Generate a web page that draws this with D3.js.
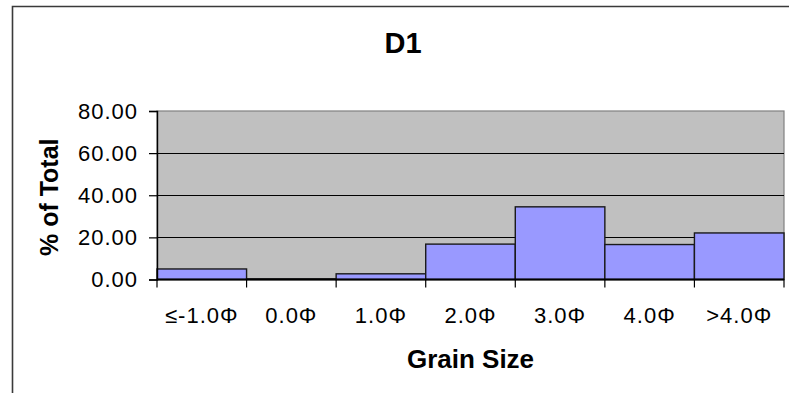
<!DOCTYPE html>
<html>
<head>
<meta charset="utf-8">
<script src="https://cdn.jsdelivr.net/npm/d3@7"></script>
<style>
  html, body { margin: 0; padding: 0; background: #fff; }
  svg { display: block; }
  text { font-family: "Liberation Sans", Arial, sans-serif; fill: #000; }
</style>
</head>
<body>
<svg id="chart" width="790" height="393"></svg>
<script>
// Grain-size distribution for sample D1
const categories = ["≤-1.0Φ", "0.0Φ", "1.0Φ", "2.0Φ", "3.0Φ", "4.0Φ", ">4.0Φ"];
const percentTotal = [5.0, 0.3, 2.7, 16.8, 34.5, 16.6, 22.1];
const yTicks = [0, 20, 40, 60, 80];
const chartTitle = "D1";
const xTitle = "Grain Size";
const yTitle = "% of Total";

const svg = d3.select("#chart");
const W = 790, H = 393;
const plot = { left: 157, right: 784, top: 111, bottom: 279.5 };

// outer chart frame (top and left edges visible)
svg.append("path")
  .attr("d", `M12.5,${H + 5} L12.5,6.5 L789,6.5`)
  .attr("fill", "none")
  .attr("stroke", "#3a3a3a")
  .attr("stroke-width", 1.6);

const x = d3.scaleBand().domain(categories).range([plot.left, plot.right]).padding(0);
const y = d3.scaleLinear().domain([0, 80]).range([plot.bottom, plot.top]);

// plot area background
svg.append("rect")
  .attr("x", plot.left).attr("y", plot.top)
  .attr("width", plot.right - plot.left).attr("height", plot.bottom - plot.top)
  .attr("fill", "#c0c0c0")
  .attr("stroke", "#808080").attr("stroke-width", 1.2);

// horizontal gridlines
svg.append("g").selectAll("line")
  .data(yTicks.filter(d => d > 0 && d < 80))
  .join("line")
  .attr("x1", plot.left).attr("x2", plot.right)
  .attr("y1", d => Math.round(y(d)) + 0.5).attr("y2", d => Math.round(y(d)) + 0.5)
  .attr("stroke", "#000").attr("stroke-width", 1.2);

// bars
svg.append("g").selectAll("rect")
  .data(categories.map((c, i) => ({ c, v: percentTotal[i] })))
  .join("rect")
  .attr("x", d => x(d.c))
  .attr("y", d => y(d.v))
  .attr("width", x.bandwidth())
  .attr("height", d => y(0) - y(d.v))
  .attr("fill", "#9999ff")
  .attr("stroke", "#1a1a1a")
  .attr("stroke-width", 1.4);

// y axis
const yAxis = d3.axisLeft(y).tickValues(yTicks).tickFormat(d3.format(".2f"))
  .tickSize(8).tickPadding(11);
const gy = svg.append("g").attr("transform", `translate(${plot.left},0)`).call(yAxis);
gy.select(".domain").attr("stroke", "#000").attr("stroke-width", 1.4);
gy.selectAll(".tick line").attr("stroke", "#000").attr("stroke-width", 1.2);
gy.selectAll(".tick text")
  .attr("font-size", 22).attr("letter-spacing", 1)
  .attr("font-family", "'Liberation Sans', Arial, sans-serif");

// x axis: ticks at category boundaries, labels centered in each band
const gx = svg.append("g").attr("transform", `translate(0,${plot.bottom})`);
gx.append("line")
  .attr("x1", plot.left).attr("x2", plot.right)
  .attr("stroke", "#000").attr("stroke-width", 2);
const bounds = categories.map(c => x(c)).concat([x(categories[categories.length - 1]) + x.bandwidth()]);
gx.selectAll("line.tk").data(bounds).join("line").attr("class", "tk")
  .attr("x1", d => d).attr("x2", d => d).attr("y1", 0).attr("y2", 8)
  .attr("stroke", "#000").attr("stroke-width", 1.2);
gx.selectAll("text").data(categories).join("text")
  .attr("x", d => x(d) + x.bandwidth() / 2)
  .attr("y", 43)
  .attr("text-anchor", "middle")
  .attr("font-size", 22).attr("letter-spacing", 1)
  .text(d => d);

// titles
svg.append("text")
  .attr("x", 403).attr("y", 53)
  .attr("text-anchor", "middle")
  .attr("font-size", 29).attr("font-weight", "bold")
  .text(chartTitle);

svg.append("text")
  .attr("x", (plot.left + plot.right) / 2).attr("y", 368)
  .attr("text-anchor", "middle")
  .attr("font-size", 26).attr("font-weight", "bold")
  .text(xTitle);

svg.append("text")
  .attr("transform", `translate(58,${(plot.top + plot.bottom) / 2 + 2}) rotate(-90)`)
  .attr("text-anchor", "middle")
  .attr("font-size", 25).attr("font-weight", "bold")
  .text(yTitle);
</script>
</body>
</html>
